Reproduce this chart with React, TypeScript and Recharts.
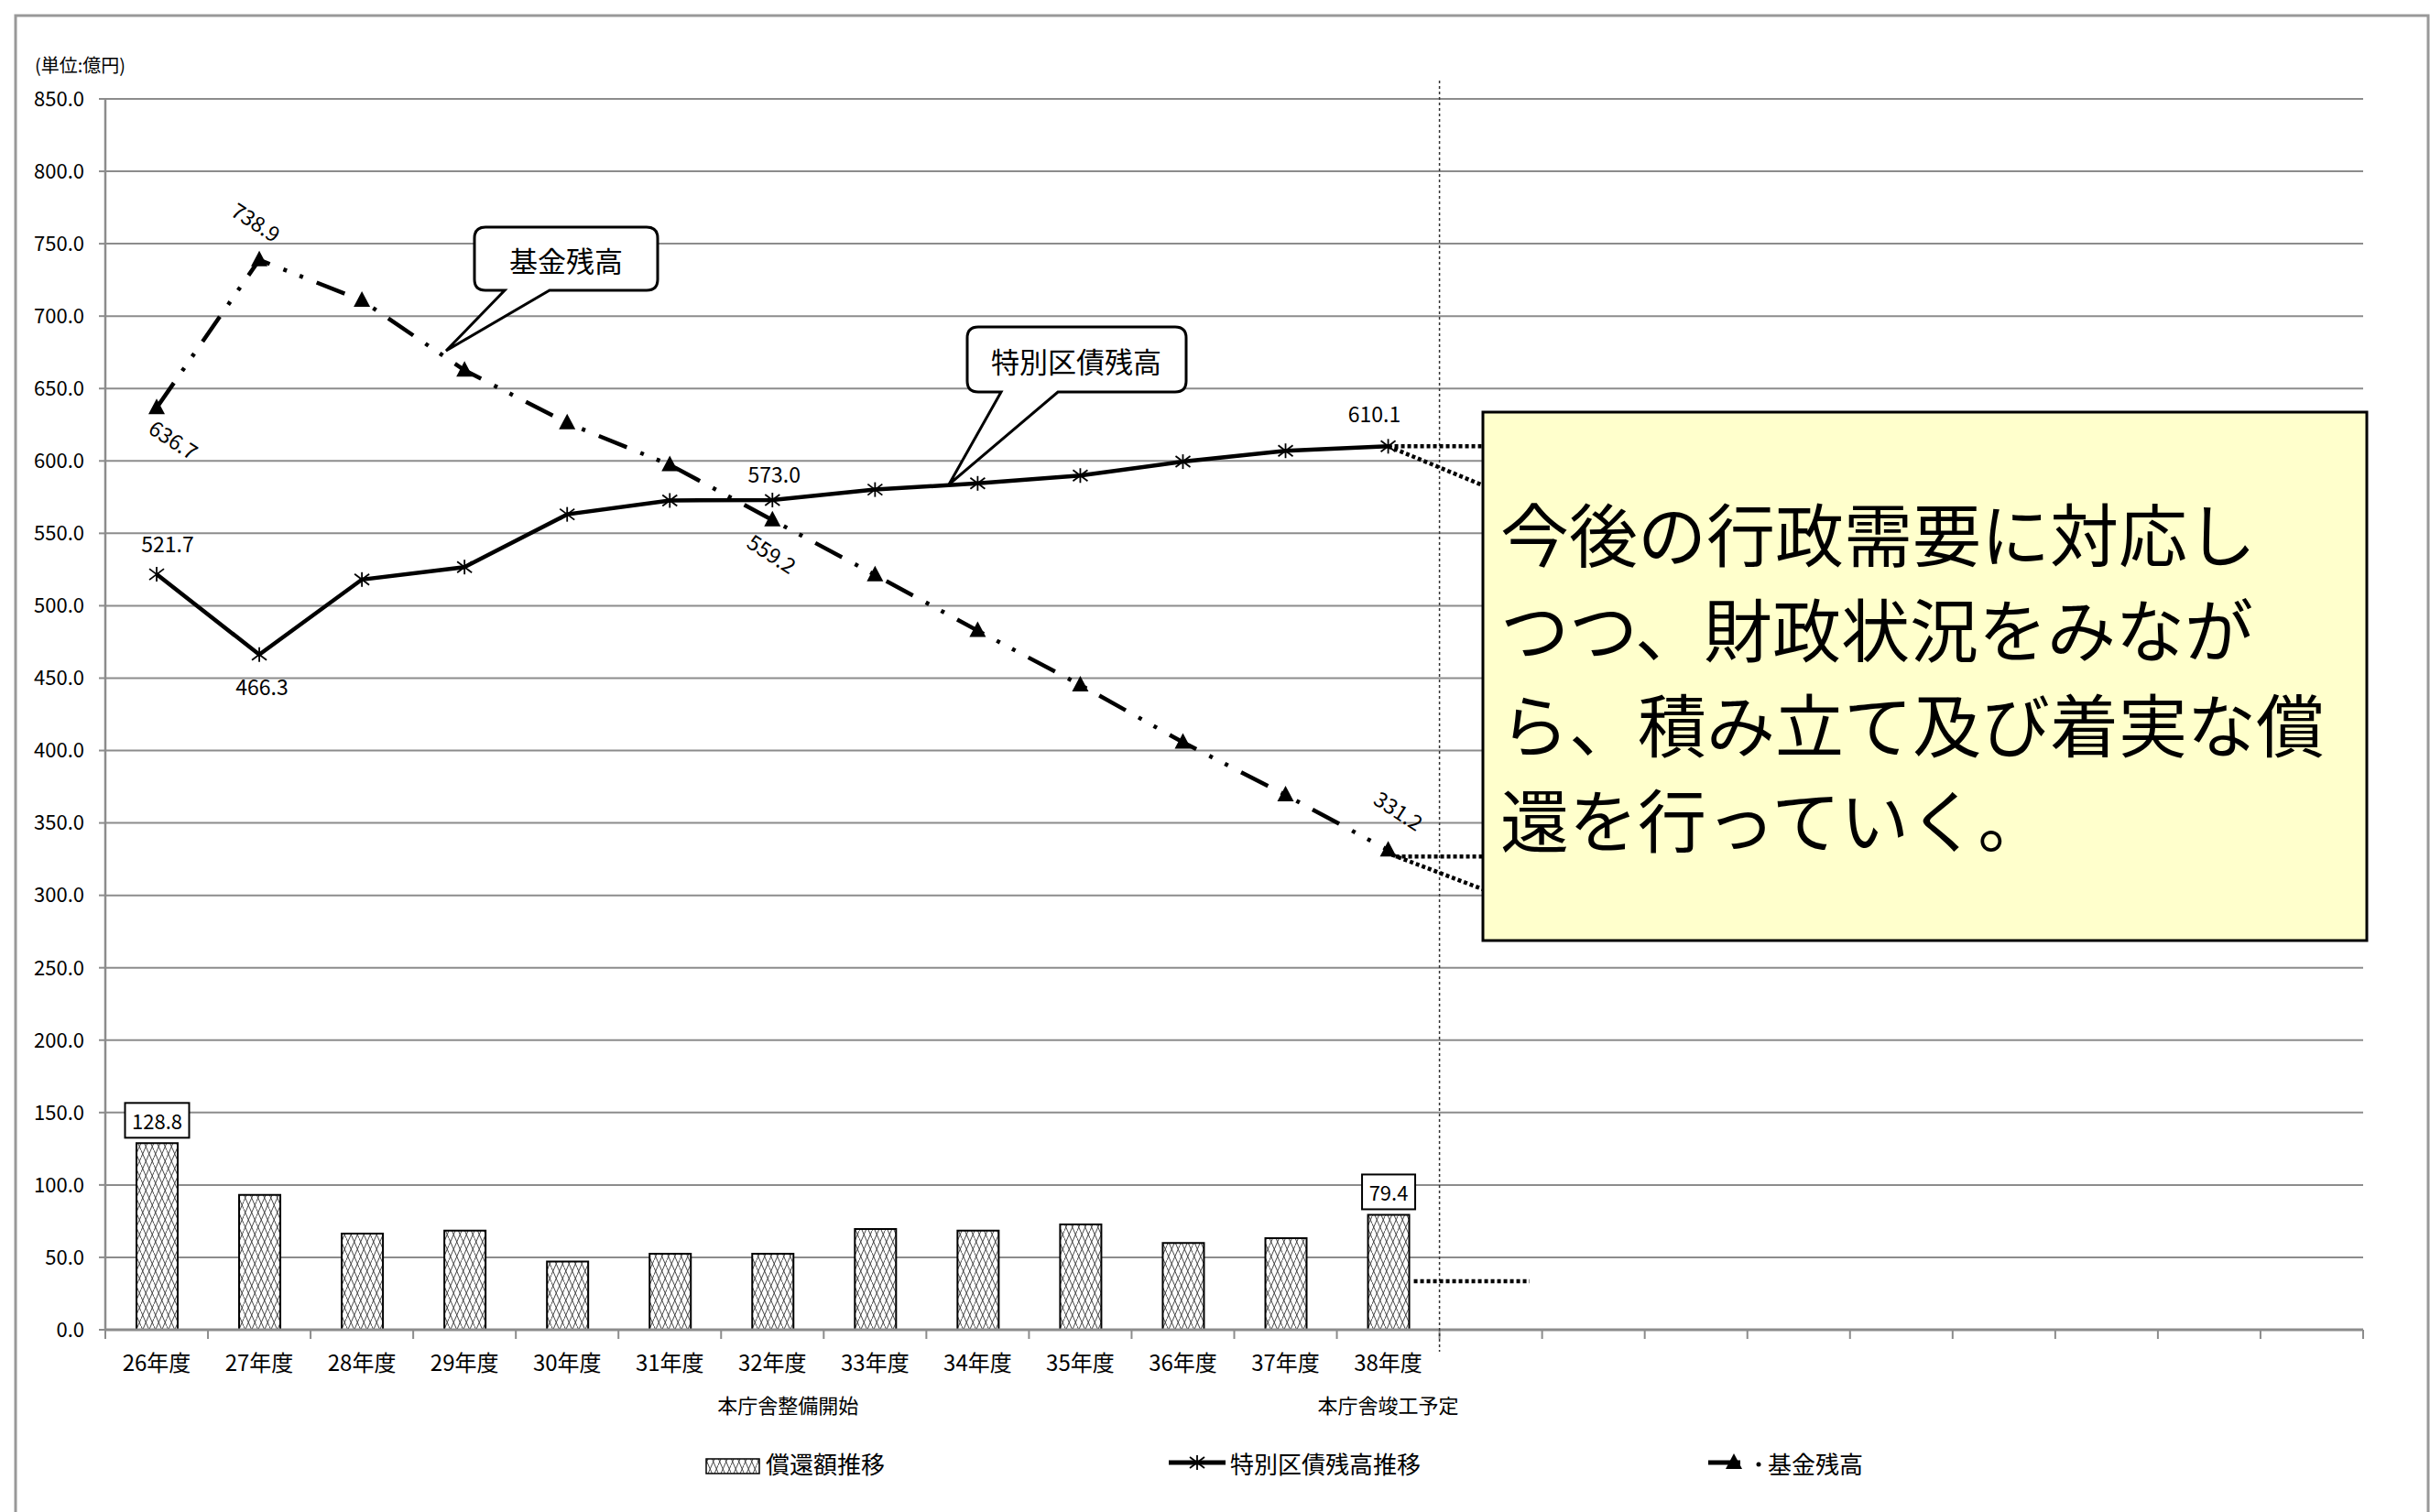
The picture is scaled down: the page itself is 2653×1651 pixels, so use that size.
import React from 'react'
import {
  ComposedChart,
  Bar,
  Line,
  XAxis,
  YAxis,
  CartesianGrid,
  LabelList,
} from 'recharts'

// page / plot geometry
const W = 2653
const H = 1651
const PLOT_LEFT = 115
const PLOT_RIGHT = 2580
const PLOT_TOP = 108
const PLOT_BOTTOM = 1452
const N_CAT = 22
const BAND = (PLOT_RIGHT - PLOT_LEFT) / N_CAT
const Y_MAX = 850

const FONT = "'Noto Sans CJK JP', 'Noto Sans', sans-serif"
const GRID = '#8c8c8c'

// data (億円)
const years = [
  '26年度', '27年度', '28年度', '29年度', '30年度', '31年度', '32年度',
  '33年度', '34年度', '35年度', '36年度', '37年度', '38年度',
]
const repayment = [128.8, 93.1, 66.4, 68.5, 47.1, 52.5, 52.5, 69.6, 68.5, 72.8, 60.0, 63.2, 79.4]
const bondBalance = [521.7, 466.3, 518.1, 526.7, 563.1, 572.7, 573.0, 580.2, 584.5, 589.9, 599.5, 607.0, 610.1]
const fundBalance = [636.7, 738.9, 710.8, 662.6, 626.2, 597.3, 559.2, 521.3, 482.8, 445.3, 405.7, 369.3, 331.2]
const yTicks = [0, 50, 100, 150, 200, 250, 300, 350, 400, 450, 500, 550, 600, 650, 700, 750, 800, 850]

const noteLines = [
  '今後の行政需要に対応し',
  'つつ、財政状況をみなが',
  'ら、積み立て及び着実な償',
  '還を行っていく。',
]

const data = Array.from({ length: N_CAT }, (_, i) => ({
  cat: i < years.length ? years[i] : `slot${i}`,
  repay: repayment[i],
  bond: bondBalance[i],
  fund: fundBalance[i],
}))

// label offsets by point index
const bondLabels: Record<number, [number, number]> = {
  0: [12, -34],
  1: [3, 34],
  6: [2, -29],
  12: [-15, -36],
}
const fundLabels: Record<number, [number, number]> = {
  0: [19, 34],
  1: [-3, -42],
  6: [0, 36],
  12: [12, -44],
}

const xOf = (i: number) => PLOT_LEFT + (i + 0.5) * BAND
const yOf = (v: number) => PLOT_BOTTOM - (v / Y_MAX) * (PLOT_BOTTOM - PLOT_TOP)

const StarDot = (p: any) => {
  const { cx, cy } = p
  if (cx == null || cy == null) return <g />
  const s = 8
  return (
    <g stroke='#000' strokeWidth={1.8}>
      <line x1={cx} y1={cy - s} x2={cx} y2={cy + s} />
      <line x1={cx - s} y1={cy - s * 0.75} x2={cx + s} y2={cy + s * 0.75} />
      <line x1={cx - s} y1={cy + s * 0.75} x2={cx + s} y2={cy - s * 0.75} />
    </g>
  )
}

const TriDot = (p: any) => {
  const { cx, cy } = p
  if (cx == null || cy == null) return <g />
  return <path d={`M${cx},${cy - 10} L${cx + 9},${cy + 7} L${cx - 9},${cy + 7} Z`} fill='#000' />
}

const BondLabel = (p: any) => {
  const off = bondLabels[p.index]
  if (!off || p.value == null) return null
  return (
    <text x={p.x + off[0]} y={p.y + off[1]} textAnchor='middle' dominantBaseline='central'
      fontSize={23} fill='#000' fontFamily={FONT}>
      {Number(p.value).toFixed(1)}
    </text>
  )
}

const FundLabel = (p: any) => {
  const off = fundLabels[p.index]
  if (!off || p.value == null) return null
  const x = p.x + off[0]
  const y = p.y + off[1]
  return (
    <text x={x} y={y} textAnchor='middle' dominantBaseline='central' fontSize={23}
      fill='#000' fontFamily={FONT} transform={`rotate(33 ${x} ${y})`}>
      {Number(p.value).toFixed(1)}
    </text>
  )
}

const BarLabel = (p: any) => {
  if (p.index !== 0 && p.index !== years.length - 1) return null
  const txt = Number(p.value).toFixed(1)
  const w = txt.length * 12 + 10
  const cx = p.x + p.width / 2
  const bottom = p.y - 6
  return (
    <g>
      <rect x={cx - w / 2} y={bottom - 38} width={w} height={38} fill='#fff' stroke='#000' strokeWidth={2} />
      <text x={cx} y={bottom - 19} textAnchor='middle' dominantBaseline='central' fontSize={22}
        fill='#000' fontFamily={FONT}>
        {txt}
      </text>
    </g>
  )
}

const CategoryTick = (p: any) => {
  const { x, payload } = p
  const i = payload.index ?? p.index
  const label = years.includes(payload.value) ? payload.value : ''
  const right = x + BAND / 2
  return (
    <g>
      {i === 0 && (
        <line x1={x - BAND / 2} y1={PLOT_BOTTOM} x2={x - BAND / 2} y2={PLOT_BOTTOM + 10} stroke={GRID} strokeWidth={2} />
      )}
      <line x1={right} y1={PLOT_BOTTOM} x2={right} y2={PLOT_BOTTOM + 10} stroke={GRID} strokeWidth={2} />
      {label && (
        <text x={x} y={PLOT_BOTTOM + 34} textAnchor='middle' dominantBaseline='central' fontSize={24}
          fill='#000' fontFamily={FONT}>
          {label}
        </text>
      )}
      {i === 6 && (
        <text x={x + 17} y={PLOT_BOTTOM + 81} textAnchor='middle' dominantBaseline='central' fontSize={22}
          fill='#000' fontFamily={FONT}>
          本庁舎整備開始
        </text>
      )}
      {i === 12 && (
        <text x={x} y={PLOT_BOTTOM + 81} textAnchor='middle' dominantBaseline='central' fontSize={22}
          fill='#000' fontFamily={FONT}>
          本庁舎竣工予定
        </text>
      )}
    </g>
  )
}

const callout = (x0: number, y0: number, x1: number, y1: number, b1: number, b2: number, tx: number, ty: number) => {
  const r = 12
  return `M${x0 + r},${y0} H${x1 - r} Q${x1},${y0} ${x1},${y0 + r} V${y1 - r} Q${x1},${y1} ${x1 - r},${y1} H${b2} L${tx},${ty} L${b1},${y1} H${x0 + r} Q${x0},${y1} ${x0},${y1 - r} V${y0 + r} Q${x0},${y0} ${x0 + r},${y0} Z`
}

// zigzag / brick-like hatch used by the repayment bars
const HatchDefs = ({ id }: { id: string }) => (
  <pattern id={id} width='14' height='16' patternUnits='userSpaceOnUse'>
    <rect width='14' height='16' fill='#fff' />
    <path d='M0,16 L7,0 M7,16 L14,0 M0,8 L3.5,16 M7,8 L10.5,16 M3.5,0 L7,8 M10.5,0 L14,8'
      stroke='#444' strokeWidth='1' fill='none' />
  </pattern>
)

const BOX = { x: 1619, y: 450, w: 965, h: 577 }

export default function App() {
  const lastX = xOf(years.length - 1)
  const divX = PLOT_LEFT + years.length * BAND
  return (
    <div style={{ position: 'absolute', left: 0, top: 0, width: W, height: H, background: '#fff', fontFamily: FONT }}>
      <svg width={0} height={0} style={{ position: 'absolute' }}>
        <defs>
          <HatchDefs id='hatch' />
        </defs>
      </svg>
      <ComposedChart
        width={W}
        height={H}
        data={data}
        margin={{ top: PLOT_TOP, right: W - PLOT_RIGHT, left: 15, bottom: 139 }}
      >
        <CartesianGrid horizontal vertical={false} stroke={GRID} strokeWidth={2} />
        <XAxis
          dataKey='cat'
          height={60}
          interval={0}
          axisLine={{ stroke: GRID, strokeWidth: 3 }}
          tickLine={false}
          tick={<CategoryTick />}
        />
        <YAxis
          width={100}
          domain={[0, Y_MAX]}
          ticks={yTicks}
          interval={0}
          tickFormatter={(v: number) => v.toFixed(1)}
          axisLine={{ stroke: GRID, strokeWidth: 2.5 }}
          tickLine={{ stroke: GRID, strokeWidth: 2 }}
          tickSize={7}
          tickMargin={16}
          tick={{ fill: '#000', fontSize: 22, fontFamily: FONT }}
        />
        <Bar dataKey='repay' barSize={45} fill='url(#hatch)' stroke='#000' strokeWidth={2} isAnimationActive={false}>
          <LabelList dataKey='repay' content={BarLabel} />
        </Bar>
        <Line
          type='linear'
          dataKey='bond'
          stroke='#000'
          strokeWidth={4.5}
          dot={StarDot}
          activeDot={false}
          isAnimationActive={false}
        >
          <LabelList dataKey='bond' content={BondLabel} />
        </Line>
        <Line
          type='linear'
          dataKey='fund'
          stroke='#000'
          strokeWidth={4.5}
          strokeDasharray='33 16 4 15 4 16'
          dot={TriDot}
          activeDot={false}
          isAnimationActive={false}
        >
          <LabelList dataKey='fund' content={FundLabel} />
        </Line>
      </ComposedChart>

      <svg width={W} height={H} style={{ position: 'absolute', left: 0, top: 0, pointerEvents: 'none' }}>
        <defs>
          <HatchDefs id='hatchLegend' />
        </defs>
        {/* frame */}
        <rect x={17} y={17} width={2634} height={1700} fill='none' stroke='#999' strokeWidth={3} />
        <text x={38} y={70} fontSize={20} dominantBaseline='central' fill='#000' fontFamily={FONT}>
          (単位:億円)
        </text>

        {/* completion divider */}
        <line x1={divX} y1={88} x2={divX} y2={1476} stroke='#333' strokeWidth={1.5} strokeDasharray='3 3' />

        {/* connectors to the note */}
        <g stroke='#000' strokeWidth={4.5} strokeDasharray='4 3' fill='none'>
          <line x1={lastX} y1={yOf(610.1)} x2={BOX.x} y2={yOf(610.1)} />
          <line x1={lastX} y1={yOf(610.1)} x2={BOX.x} y2={530} />
          <line x1={lastX + 8} y1={yOf(331.2) + 7} x2={BOX.x} y2={yOf(331.2) + 7} />
          <line x1={lastX + 4} y1={yOf(331.2) + 5} x2={BOX.x} y2={971} />
          <line x1={lastX + 28} y1={yOf(33.5)} x2={1670} y2={yOf(33.5)} />
        </g>

        {/* callouts */}
        <path d={callout(518, 248, 718, 317, 551, 600, 487, 383)} fill='#fff' stroke='#000' strokeWidth={3} />
        <text x={618} y={283} textAnchor='middle' dominantBaseline='central' fontSize={31} fill='#000' fontFamily={FONT}>
          基金残高
        </text>
        <path d={callout(1056, 357, 1295, 428, 1093, 1155, 1036, 529)} fill='#fff' stroke='#000' strokeWidth={3} />
        <text x={1175} y={393} textAnchor='middle' dominantBaseline='central' fontSize={31} fill='#000' fontFamily={FONT}>
          特別区債残高
        </text>

        {/* note box */}
        <rect x={BOX.x} y={BOX.y} width={BOX.w} height={BOX.h} fill='#FFFFCC' stroke='#000' strokeWidth={3} />
        {noteLines.map((t, i) => (
          <text key={t} x={1638} y={580 + i * 104} dominantBaseline='central' fontSize={75} fill='#000' fontFamily={FONT}>
            {t}
          </text>
        ))}

        {/* legend */}
        <rect x={771} y={1593} width={58} height={16} fill='url(#hatchLegend)' stroke='#000' strokeWidth={1.5} />
        <text x={836} y={1597} dominantBaseline='central' fontSize={26} fill='#000' fontFamily={FONT}>
          償還額推移
        </text>
        <line x1={1276} y1={1597} x2={1338} y2={1597} stroke='#000' strokeWidth={5} />
        <StarDot cx={1307} cy={1597} />
        <text x={1343} y={1597} dominantBaseline='central' fontSize={26} fill='#000' fontFamily={FONT}>
          特別区債残高推移
        </text>
        <line x1={1865} y1={1597} x2={1900} y2={1597} stroke='#000' strokeWidth={5} />
        <TriDot cx={1893} cy={1597} />
        <circle cx={1920} cy={1599} r={2.5} fill='#000' />
        <text x={1930} y={1597} dominantBaseline='central' fontSize={26} fill='#000' fontFamily={FONT}>
          基金残高
        </text>
      </svg>
    </div>
  )
}
